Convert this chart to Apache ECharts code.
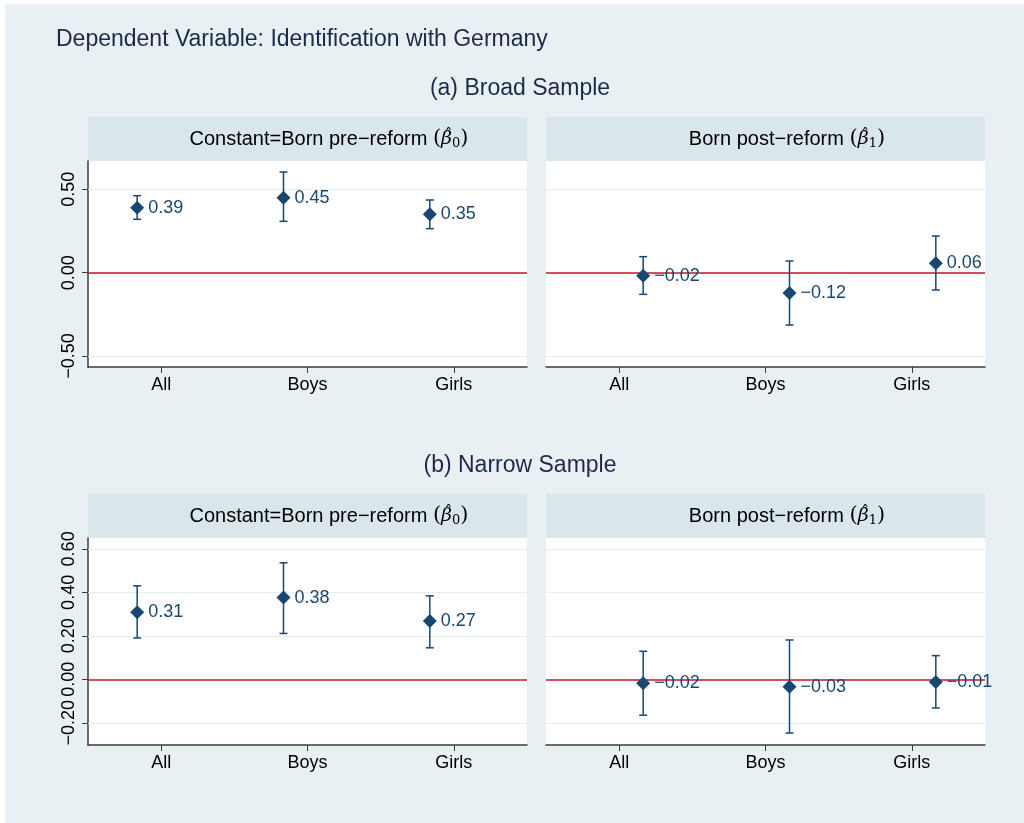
<!DOCTYPE html>
<html>
<head>
<meta charset="utf-8">
<script src="https://cdn.jsdelivr.net/npm/echarts@6/dist/echarts.min.js"></script>
<style>
  html, body { margin: 0; padding: 0; background: #ffffff; }
  #chart { width: 1024px; height: 823px; }
</style>
</head>
<body>
<div id="chart"></div>
<script>
// categories shared by every panel
const categories = ["All", "Boys", "Girls"];

// (a) Broad Sample
const broadConst = [0.39, 0.45, 0.35];
const broadConstLo = [0.32, 0.308, 0.264];
const broadConstHi = [0.462, 0.604, 0.436];
const broadPost = [-0.018, -0.122, 0.056];
const broadPostLo = [-0.13, -0.314, -0.104];
const broadPostHi = [0.096, 0.07, 0.22];

// (b) Narrow Sample
const narrowConst = [0.309, 0.376, 0.268];
const narrowConstLo = [0.19, 0.211, 0.145];
const narrowConstHi = [0.43, 0.536, 0.384];
const narrowPost = [-0.018, -0.034, -0.012];
const narrowPostLo = [-0.165, -0.247, -0.132];
const narrowPostHi = [0.129, 0.181, 0.109];

// tick labels
const broadTicks = [-0.5, 0, 0.5];
const narrowTicks = [-0.2, 0, 0.2, 0.4, 0.6];

const navy = "#1a476f";
const red = "#c8102e";
const fmt = (v) => v.toFixed(2).replace("-", "\u2212");

const panels = [
    { mean: broadConst, lo: broadConstLo, hi: broadConstHi, ticks: broadTicks, min: -0.566, max: 0.67, dx: -24, yLabels: true,
      grid: { left: 88, top: 161, width: 439, height: 206 } },
    { mean: broadPost, lo: broadPostLo, hi: broadPostHi, ticks: broadTicks, min: -0.566, max: 0.67, dx: 24, yLabels: false,
      grid: { left: 546, top: 161, width: 439, height: 206 } },
    { mean: narrowConst, lo: narrowConstLo, hi: narrowConstHi, ticks: narrowTicks, min: -0.302, max: 0.65, dx: -24, yLabels: true,
      grid: { left: 88, top: 538, width: 439, height: 207 } },
    { mean: narrowPost, lo: narrowPostLo, hi: narrowPostHi, ticks: narrowTicks, min: -0.302, max: 0.65, dx: 24, yLabels: false,
      grid: { left: 546, top: 538, width: 439, height: 207 } },
];

const grids = [], xAxes = [], yAxes = [], series = [];

panels.forEach((p, i) => {
    grids.push(Object.assign({ backgroundColor: "#ffffff", show: true, borderWidth: 0 }, p.grid));
    xAxes.push({
        type: "category",
        gridIndex: i,
        data: categories,
        boundaryGap: true,
        axisLine: { show: true, onZero: false, lineStyle: { color: "#3c3c3c", width: 1.5 } },
        axisTick: { show: true, alignWithLabel: true, length: 6, lineStyle: { color: "#3c3c3c" } },
        axisLabel: { color: "#000", fontSize: 18, margin: 9, fontFamily: "Liberation Sans" },
        splitLine: { show: false },
    });
    yAxes.push({
        type: "value",
        gridIndex: i,
        min: p.min,
        max: p.max,
        axisLine: { show: p.yLabels, lineStyle: { color: "#3c3c3c", width: 1.5 } },
        axisTick: { show: p.yLabels, length: 6, customValues: p.ticks, lineStyle: { color: "#3c3c3c" } },
        axisLabel: {
            show: p.yLabels, customValues: p.ticks, rotate: 90, color: "#000", fontSize: 18, margin: 10,
            fontFamily: "Liberation Sans", formatter: (v) => fmt(v),
        },
        splitLine: { show: false },
    });
    // confidence intervals + grid lines + zero line
    series.push({
        type: "custom",
        xAxisIndex: i,
        yAxisIndex: i,
        z: 2,
        data: categories.map((c, k) => [k, p.lo[k], p.hi[k]]),
        renderItem: (params, api) => {
            const a = api.coord([api.value(0), api.value(1)]);
            const b = api.coord([api.value(0), api.value(2)]);
            const x = a[0] + p.dx;
            const cap = 4;
            const style = { stroke: navy, lineWidth: 1.5 };
            return {
                type: "group",
                children: [
                    { type: "line", shape: { x1: x, y1: a[1], x2: x, y2: b[1] }, style },
                    { type: "line", shape: { x1: x - cap, y1: a[1], x2: x + cap, y2: a[1] }, style },
                    { type: "line", shape: { x1: x - cap, y1: b[1], x2: x + cap, y2: b[1] }, style },
                ],
            };
        },
        markLine: {
            silent: true,
            z: 1,
            symbol: "none",
            label: { show: false },
            animation: false,
            data: p.ticks.filter((t) => t !== 0).map((t) => ({ yAxis: t, lineStyle: { color: "#e6eef1", width: 1.2, type: "solid" } }))
                .concat([{ yAxis: 0, lineStyle: { color: red, width: 1.5, type: "solid" } }]),
        },
    });
    series.push({
        type: "scatter",
        xAxisIndex: i,
        yAxisIndex: i,
        z: 3,
        symbol: "diamond",
        symbolSize: 14,
        symbolOffset: [p.dx, 0],
        itemStyle: { color: navy, opacity: 1 },
        data: p.mean.map((v, k) => [k, v]),
        label: {
            show: true,
            position: "right",
            distance: 4,
            color: navy,
            fontSize: 18,
            fontFamily: "Liberation Sans",
            formatter: (d) => fmt(d.value[1]),
        },
    });
});

// strip header: plain words, then (beta-hat_k) set in serif
const measureCtx = document.createElement("canvas").getContext("2d");
function textWidth(str, font) {
    measureCtx.font = font;
    return measureCtx.measureText(str).width;
}
const fontMain = "20px 'Liberation Sans'";
const fontParen = "21px 'DejaVu Serif'";
const fontBeta = "italic 19px 'DejaVu Serif'";
const fontSub = "13px 'DejaVu Serif'";

function header(x, w, y, textX, words, sub) {
    const parts = [
        { t: words + " ", font: fontMain, dy: 0 },
        { t: "(", font: fontParen, dy: 0 },
        { t: "\u03b2", font: fontBeta, dy: 0, hat: true },
        { t: sub, font: fontSub, dy: 5 },
        { t: ")", font: fontParen, dy: 0 },
    ];
    parts.forEach((pt) => (pt.w = textWidth(pt.t, pt.font)));
    const total = parts.reduce((s, pt) => s + pt.w, 0);
    let cx = textX - total / 2;
    const cy = y + 22;
    const els = [{ type: "rect", shape: { x, y, width: w, height: 44 }, style: { fill: "#d9e6eb" }, silent: true }];
    parts.forEach((pt) => {
        els.push({
            type: "text", x: cx, y: cy + pt.dy, silent: true,
            style: { text: pt.t, font: pt.font, fill: "#000", textAlign: "left", textVerticalAlign: "middle" },
        });
        if (pt.hat) {
            els.push({
                type: "text", x: cx + pt.w / 2 + 2, y: cy - 3, silent: true,
                style: { text: "\u02c6", font: "16px 'DejaVu Serif'", fill: "#000", textAlign: "center", textVerticalAlign: "middle" },
            });
        }
        cx += pt.w;
    });
    return els;
}

const graphics = [
    { type: "rect", shape: { x: 5, y: 4, width: 1019, height: 819 }, style: { fill: "#e8f0f3" }, silent: true, z: -10 },
    { type: "text", x: 56, y: 40, style: { text: "Dependent Variable: Identification with Germany", fontSize: 23, fontFamily: "Liberation Sans", fill: "#1c2a4a", textVerticalAlign: "middle" } },
    { type: "text", x: 520, y: 89, style: { text: "(a) Broad Sample", fontSize: 23, fontFamily: "Liberation Sans", fill: "#1c2a4a", textAlign: "center", textVerticalAlign: "middle" } },
    { type: "text", x: 520, y: 466, style: { text: "(b) Narrow Sample", fontSize: 23, fontFamily: "Liberation Sans", fill: "#1c2a4a", textAlign: "center", textVerticalAlign: "middle" } },
]
    .concat(header(88, 439, 117, 329, "Constant=Born pre\u2212reform", "0"))
    .concat(header(546, 439, 117, 787, "Born post\u2212reform", "1"))
    .concat(header(88, 439, 494, 329, "Constant=Born pre\u2212reform", "0"))
    .concat(header(546, 439, 494, 787, "Born post\u2212reform", "1"));

const chart = echarts.init(document.getElementById("chart"), null, { renderer: "canvas" });
chart.setOption({
    animation: false,
    backgroundColor: "#ffffff",
    graphic: { elements: graphics },
    grid: grids,
    xAxis: xAxes,
    yAxis: yAxes,
    series: series,
});
</script>
</body>
</html>
